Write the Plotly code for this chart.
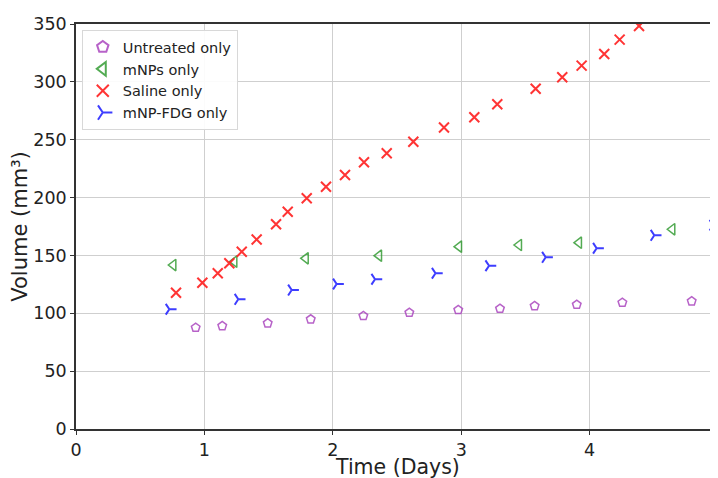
import plotly.graph_objects as go

untreated_x = [0.932, 1.139, 1.493, 1.828, 2.238, 2.596, 2.977, 3.302, 3.572, 3.900, 4.255, 4.795]
untreated_y = [87.6, 89.0, 91.4, 94.8, 97.7, 100.5, 102.9, 104.0, 106.3, 107.4, 109.2, 110.4]

mnps_x = [0.758, 1.233, 1.789, 2.360, 2.983, 3.450, 3.917, 4.644]
mnps_y = [141.7, 144.6, 147.5, 149.8, 157.6, 159.0, 161.0, 172.6]

saline_x = [0.779, 0.984, 1.104, 1.194, 1.291, 1.407, 1.558, 1.649, 1.797, 1.947, 2.095,
            2.243, 2.420, 2.627, 2.866, 3.102, 3.281, 3.580, 3.787, 3.938, 4.114, 4.234, 4.385]
saline_y = [117.8, 126.4, 134.6, 143.2, 153.2, 163.8, 176.9, 187.8, 199.4, 209.4, 219.5,
            230.5, 238.3, 248.3, 260.6, 269.4, 280.6, 294.1, 304.0, 314.0, 324.1, 336.5, 348.3]

fdg_x = [0.727, 1.264, 1.680, 2.030, 2.329, 2.800, 3.217, 3.658, 4.055, 4.504, 4.963]
fdg_y = [103.5, 112.1, 120.1, 125.3, 129.4, 134.6, 141.1, 148.4, 156.2, 167.4, 176.1]

x_ticks = [0, 1, 2, 3, 4, 5]
y_ticks = [0, 50, 100, 150, 200, 250, 300, 350]

x_title = "Time (Days)"
y_title = "Volume (mm³)"

fig = go.Figure()
fig.add_trace(go.Scatter(x=untreated_x, y=untreated_y, mode="markers", name="Untreated only",
                         marker=dict(symbol="pentagon-open", size=9, color="rgba(170,70,190,0.85)",
                                     line=dict(width=1.5, color="rgba(170,70,190,0.85)"))))
fig.add_trace(go.Scatter(x=mnps_x, y=mnps_y, mode="markers", name="mNPs only",
                         marker=dict(symbol="triangle-left-open", size=10, color="rgba(40,150,40,0.8)",
                                     line=dict(width=1.5, color="rgba(40,150,40,0.8)"))))
fig.add_trace(go.Scatter(x=saline_x, y=saline_y, mode="markers", name="Saline only",
                         marker=dict(symbol="x-thin", size=10, color="rgba(255,30,30,0.9)",
                                     line=dict(width=2, color="rgba(255,30,30,0.9)"))))
fig.add_trace(go.Scatter(x=fdg_x, y=fdg_y, mode="markers", name="mNP-FDG only",
                         marker=dict(symbol="y-right", size=9, color="rgba(40,40,255,0.9)",
                                     line=dict(width=2, color="rgba(40,40,255,0.9)"))))

axis_common = dict(showgrid=True, gridcolor="#cfcfcf", gridwidth=1, showline=True,
                   linecolor="#333333", linewidth=1.5, mirror=True, ticks="outside",
                   ticklen=4, tickcolor="#333333", zeroline=False, automargin=False,
                   tickfont=dict(family="DejaVu Sans", size=17.5, color="#222222"))

fig.update_xaxes(range=[0, 5], tickvals=x_ticks, **axis_common)
fig.update_yaxes(range=[0, 350], tickvals=y_ticks, title=dict(text=y_title, standoff=2,
                 font=dict(family="DejaVu Sans", size=21, color="#222222")), **axis_common)

fig.add_annotation(text=x_title, xref="paper", yref="paper", x=0.5, y=-0.094,
                   xanchor="center", yanchor="middle", showarrow=False,
                   font=dict(family="DejaVu Sans", size=20.5, color="#222222"))

# the page body has an 8px margin, so margins are offset to place the plot area
fig.update_layout(
    width=718, height=478,
    margin=dict(l=68, r=8, t=16, b=57),
    plot_bgcolor="white", paper_bgcolor="white",
    font=dict(family="DejaVu Sans"),
    legend=dict(x=0.009, y=0.985, xanchor="left", yanchor="top",
                bgcolor="rgba(255,255,255,0.9)", bordercolor="#d8d8d8", borderwidth=1,
                font=dict(family="DejaVu Sans", size=14.5, color="#222222"),
                itemsizing="constant", tracegroupgap=0),
)

fig.write_html("out.html")
